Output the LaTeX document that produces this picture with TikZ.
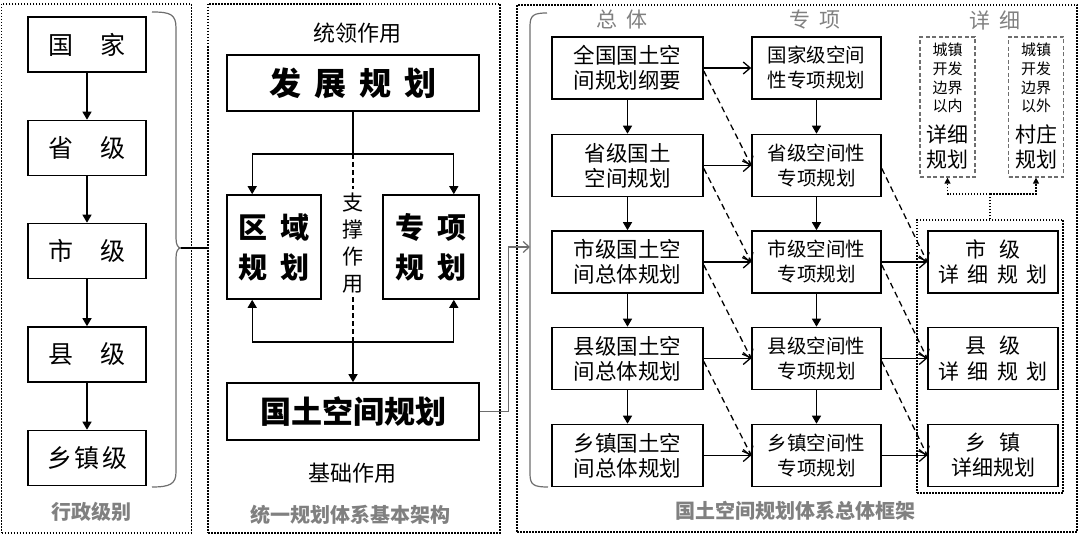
\documentclass[tikz,border=0pt]{standalone}
\usepackage{fontspec}
\setmainfont{Noto Sans CJK SC}
\usetikzlibrary{arrows.meta,calc}
\definecolor{lblgray}{HTML}{808080}
\definecolor{brgray}{HTML}{6E6E6E}
\begin{document}
\begin{tikzpicture}[x=1pt,y=-1pt,
  box/.style={draw,line width=1.6pt,inner sep=0pt,align=center},
  panel/.style={draw,line width=1.5pt,dash pattern=on 1.5pt off 1.5pt,inner sep=0pt},
  lvl/.style={box,minimum width=118pt,minimum height=55pt,font=\fontsize{25}{30}\selectfont},
  zt/.style={box,minimum width=151pt,minimum height=62pt,font=\fontsize{21.5}{25}\selectfont},
  zx/.style={box,minimum width=129pt,minimum height=62pt,font=\fontsize{19.5}{25}\selectfont},
  xx/.style={box,minimum width=130pt,minimum height=62pt,font=\fontsize{21}{25}\selectfont},
  dbox/.style={draw=brgray,line width=1.3pt,dash pattern=on 4pt off 2.5pt,inner sep=0pt,minimum width=55pt,minimum height=140pt},
  grpbox/.style={draw,line width=1.4pt,dash pattern=on 1.5pt off 1.5pt,inner sep=0pt,minimum width=146pt,minimum height=273pt},
  glabel/.style={text=lblgray,font=\fontsize{20}{24}\selectfont\bfseries},
  hlabel/.style={text=lblgray,font=\fontsize{21}{24}\selectfont},
  plain/.style={font=\fontsize{22}{26}\selectfont},
  conn/.style={line width=1.3pt},
  tri/.style={conn,-{Triangle[width=9pt,length=8pt]}},
  smtri/.style={line width=1.3pt,dash pattern=on 1.5pt off 1.5pt,-{Triangle[width=6pt,length=6pt]}},
  barb/.style={conn,-{Straight Barb[length=7pt,width=12pt,line width=1.3pt]}},
  dasharr/.style={barb,dash pattern=on 6pt off 4pt},
  brace/.style={draw=brgray,line width=1.2pt},
]
\useasboundingbox (0,0) rectangle (1080,537);

% ---------- panels ----------
\node[panel,minimum width=190pt,minimum height=529pt] (pL) at (96.5,268.5) {};
\node[panel,minimum width=292pt,minimum height=529pt] (pM) at (354,268.5) {};
\node[panel,minimum width=560pt,minimum height=527pt] (pR) at (797,268.5) {};

% ---------- left panel ----------
\node[lvl] (l1) at (87,44.5) {国\hspace{1.1em}家};
\node[lvl] (l2) at (87,148) {省\hspace{1.1em}级};
\node[lvl] (l3) at (87,251) {市\hspace{1.1em}级};
\node[lvl] (l4) at (87,354.5) {县\hspace{1.1em}级};
\node[lvl] (l5) at (87,458) {乡\hspace{0.1em}镇\hspace{0.1em}级};
\draw[tri] (l1) -- (l2);
\draw[tri] (l2) -- (l3);
\draw[tri] (l3) -- (l4);
\draw[tri] (l4) -- (l5);
\node[glabel] (lL) at (91,512) {行政级别};

\draw[brace] (152,12) .. controls (170,12) and (176,14) .. (176,28) -- (176,238)
  .. controls (176,245) and (178,248) .. (181,248) coordinate (btip)
  .. controls (178,248) and (176,251) .. (176,258) -- (176,472)
  .. controls (176,484) and (170,487) .. (152,487);
\coordinate (mpin) at (208,248);
\draw[conn] (btip) -- (mpin);

% ---------- middle panel ----------
\node[plain] (tl) at (357,33) {统领作用};
\node[box,minimum width=252pt,minimum height=56pt,font=\fontsize{32}{36}\selectfont\bfseries] (fz) at (353,83) {发\hspace{0.4em}展\hspace{0.4em}规\hspace{0.4em}划};
\node[box,minimum width=94pt,minimum height=104pt,font=\fontsize{29}{40}\selectfont\bfseries] (qy) at (274,247) {区\hspace{0.45em}域\\规\hspace{0.45em}划};
\node[box,minimum width=96pt,minimum height=104pt,font=\fontsize{29}{40}\selectfont\bfseries] (zxg) at (431,247) {专\hspace{0.45em}项\\规\hspace{0.45em}划};
\node[box,minimum width=252pt,minimum height=57pt,font=\fontsize{31}{36}\selectfont\bfseries] (gt) at (353,411.5) {国土空间规划};
\node[align=center,inner sep=4pt,font=\fontsize{21}{27}\selectfont] (zc) at (353,243) {支\\撑\\作\\用};
\node[plain] (jc) at (352,473) {基础作用};
\node[glabel] (lM) at (350,515) {统一规划体系基本架构};

\coordinate (jt) at (353,154);
\coordinate (jb) at (353,342);
\draw[conn] (fz.south) -- (jt);
\draw[tri] (jt) -| ([xshift=26pt]qy.north west);
\draw[tri] (jt) -| ([xshift=-26pt]zxg.north east);
\draw[conn,dash pattern=on 5pt off 3pt] (jt) -- (zc.north);
\draw[conn,dash pattern=on 5pt off 3pt] (zc.south) -- (jb);
\draw[tri] (jb) -| ([xshift=26pt]qy.south west);
\draw[tri] (jb) -| ([xshift=-26pt]zxg.south east);
\draw[tri] (jb) -- (gt.north);

% ---------- right panel ----------
\draw[brace] (547,13) .. controls (534,13) and (530,15) .. (530,26) -- (530,474)
  .. controls (530,485) and (534,487) .. (548,487);
\coordinate (rbin) at (530,247);
\draw[brace,-{Straight Barb[length=6pt,width=11pt,line width=1.2pt]}] (gt.east) -- ++(29,0) |- (rbin);

\node[hlabel] (h1) at (622,20) {总\hspace{0.4em}体};
\node[hlabel] (h2) at (815,20) {专\hspace{0.4em}项};
\node[hlabel] (h3) at (995,20) {详\hspace{0.4em}细};

\node[zt] (z1) at (627.5,68) {全国国土空\\间规划纲要};
\node[zt] (z2) at (627.5,165.5) {省级国土\\空间规划};
\node[zt] (z3) at (627.5,262) {市级国土空\\间总体规划};
\node[zt] (z4) at (627.5,358.5) {县级国土空\\间总体规划};
\node[zt] (z5) at (627.5,455.5) {乡镇国土空\\间总体规划};

\node[zx] (s1) at (816.5,68) {国家级空间\\性专项规划};
\node[zx] (s2) at (816.5,165.5) {省级空间性\\专项规划};
\node[zx] (s3) at (816.5,262) {市级空间性\\专项规划};
\node[zx] (s4) at (816.5,358.5) {县级空间性\\专项规划};
\node[zx] (s5) at (816.5,455.5) {乡镇空间性\\专项规划};

\node[grpbox] (grp) at (990,356.5) {};
\node[xx] (d3) at (993,262) {市\hspace{0.6em}级\\详\hspace{0.4em}细\hspace{0.4em}规\hspace{0.4em}划};
\node[xx] (d4) at (993,358.5) {县\hspace{0.6em}级\\详\hspace{0.4em}细\hspace{0.4em}规\hspace{0.4em}划};
\node[xx] (d5) at (993,455.5) {乡\hspace{0.6em}镇\\详细规划};

\node[dbox] (c1) at (947.5,107) {};
\node[dbox] (c2) at (1036,107) {};
\node[align=center,inner sep=0pt,font=\fontsize{15}{18.7}\selectfont] (c1a) at (947.5,78) {城镇\\开发\\边界\\以内};
\node[align=center,inner sep=0pt,font=\fontsize{21}{25}\selectfont] (c1b) at (947.5,147) {详细\\规划};
\node[align=center,inner sep=0pt,font=\fontsize{15}{18.7}\selectfont] (c2a) at (1036,78) {城镇\\开发\\边界\\以外};
\node[align=center,inner sep=0pt,font=\fontsize{21}{25}\selectfont] (c2b) at (1036,147) {村庄\\规划};

\node[glabel] (lR) at (795,511) {国土空间规划体系总体框架};

% vertical arrows
\draw[tri] (z1) -- (z2);
\draw[tri] (z2) -- (z3);
\draw[tri] (z3) -- (z4);
\draw[tri] (z4) -- (z5);
\draw[tri] (s1) -- (s2);
\draw[tri] (s2) -- (s3);
\draw[tri] (s3) -- (s4);
\draw[tri] (s4) -- (s5);

% horizontal arrows
\foreach \i in {1,...,5} {\draw[barb] (z\i.east) -- (s\i.west);}
\foreach \i in {3,4,5} {\draw[barb] (s\i.east) -- (d\i.west);}
% dashed diagonals
\foreach \i/\j in {1/2,2/3,3/4,4/5} {\draw[dasharr] ([yshift=-3pt]z\i.east) -- (s\j.west);}
\foreach \i/\j in {2/3,3/4,4/5} {\draw[dasharr] ([yshift=-3pt]s\i.east) -- (d\j.west);}

% dotted connector to detail boxes
\coordinate (gj) at (990,194);
\draw[line width=1.3pt,dash pattern=on 1.5pt off 1.5pt] (grp.north) -- (gj);
\draw[smtri] (gj) -| (c1.south);
\draw[smtri] (gj) -| (c2.south);
\end{tikzpicture}
\end{document}
